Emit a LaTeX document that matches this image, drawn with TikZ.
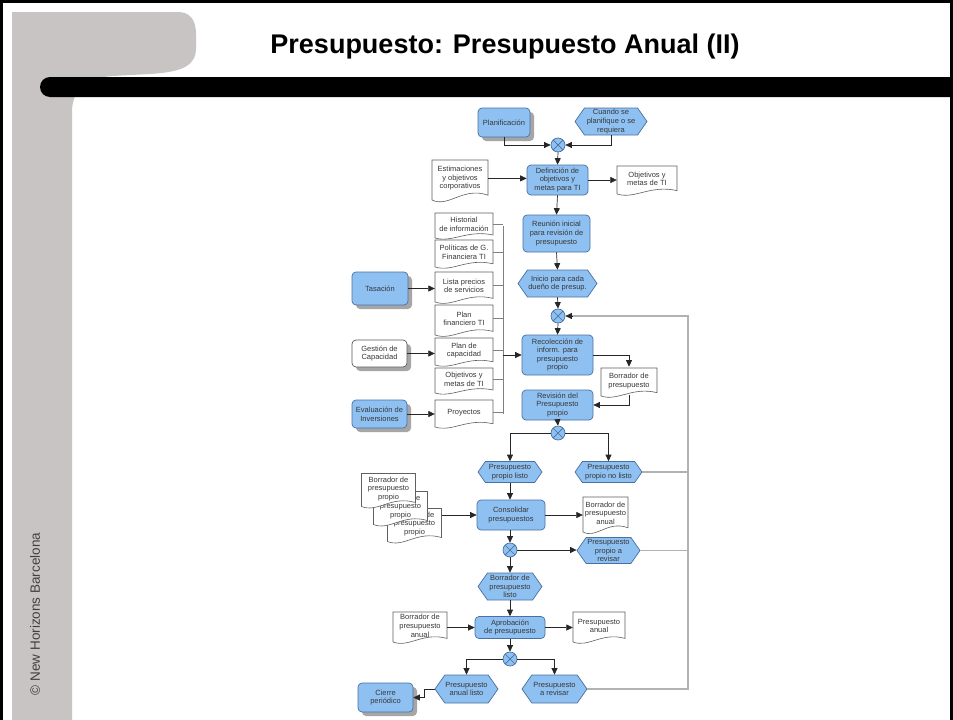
\documentclass[tikz,border=0pt]{standalone}
\usepackage{fontspec}
\setmainfont{Liberation Sans}
\usetikzlibrary{arrows.meta,shapes.symbols,shadows,calc}

\definecolor{slidegrey}{RGB}{200,196,196}
\definecolor{procblue}{RGB}{142,193,242}
\definecolor{procedge}{RGB}{72,112,160}
\definecolor{linegrey}{RGB}{178,178,178}
\definecolor{textgrey}{RGB}{55,55,55}

\tikzset{
  lbl/.style={font=\fontsize{7.5}{8.6}\selectfont, text=textgrey, align=center},
  proc/.style={lbl, rectangle, rounded corners=4pt, draw=procedge, fill=procblue, line width=0.7pt, inner sep=1pt},
  shadowed/.style={drop shadow={shadow xshift=4pt, shadow yshift=-4pt, fill=black!35, opacity=1}},
  ext/.style={proc, shadowed},
  extwhite/.style={ext, fill=white, draw=gray!70!black},
  event/.style={lbl, signal, signal to=east and west, signal pointer angle=110, draw=procedge, fill=procblue, line width=0.7pt, inner sep=0pt},
  xor/.style={circle, draw=procedge, fill=procblue, line width=0.7pt, minimum size=14pt, inner sep=0pt,
    path picture={\draw[procedge, line width=0.7pt]
      (path picture bounding box.north west) -- (path picture bounding box.south east)
      (path picture bounding box.north east) -- (path picture bounding box.south west);}},
  docshape/.style={draw=gray!75!black, fill=white, line width=0.6pt},
  doctext/.style={lbl, inner sep=0pt},
  flow/.style={draw=black!85, line width=0.7pt, -{Triangle[length=6.5pt,width=6pt]}},
  coll/.style={draw=gray, line width=0.8pt},
  backline/.style={draw=linegrey, line width=1.4pt},
}

% document symbol: name, centre x, centre y, width, height, text
\newcommand{\mydoc}[6]{%
  \path[docshape] ({#2-#4/2},{#3-#5/2}) -- ({#2+#4/2},{#3-#5/2})
    -- ({#2+#4/2},{#3+#5/2-0.12*#5})
    .. controls ({#2+0.05*#4},{#3+#5/2-0.34*#5}) and ({#2-0.2*#4},{#3+#5/2+0.2*#5})
    .. ({#2-#4/2},{#3+#5/2}) -- cycle;
  \node[doctext, minimum width=#4pt, minimum height=#5pt] (#1) at (#2,{#3-0.04*#5}) {#6};
}

\begin{document}
\begin{tikzpicture}[x=1pt, y=-1pt]
\useasboundingbox (0,0) rectangle (953,720);
\fill[white] (0,0) rectangle (953,720);

% slide frame and decoration
\fill[slidegrey] (12,12) -- (178,12) .. controls (190,12) and (196,20) .. (196,34)
  -- (196,48) .. controls (196,66) and (182,72) .. (150,74)
  -- (112,76) .. controls (84,78) and (72,92) .. (72,112) -- (72,720) -- (12,720) -- cycle;
\fill[black] (953,97) -- (953,77) [rounded corners=10pt] -- (40,77) -- (40,97) [sharp corners] -- cycle;
\draw[black, line width=3pt] (1.5,720) -- (1.5,1.5) -- (951.5,1.5) -- (951.5,720);
\node[font=\fontsize{27}{30}\selectfont\bfseries] (title) at (505,47) {Presupuesto: Presupuesto Anual (II)};
\node[rotate=90, font=\fontsize{13.5}{16}\selectfont, text=black!75] (copy) at (35,614) {© New Horizons Barcelona};

% top: planning trigger
\node[ext, minimum width=52pt, minimum height=29pt] (plan) at (504,122.5) {Planificación};
\node[event, minimum width=72pt, minimum height=27pt] (cuando) at (611,121.5) {Cuando se\\planifique o se\\requiera};
\node[xor] (x1) at (558,145) {};
\node[proc, minimum width=61pt, minimum height=30pt] (def) at (557.5,180) {Definición de\\objetivos y\\metas para TI};
\mydoc{estim}{460}{180}{56}{40}{Estimaciones\\y objetivos\\corporativos}
\mydoc{objmet1}{647}{180}{60}{28}{Objetivos y\\metas de TI}
\node[proc, minimum width=67pt, minimum height=37pt] (reun) at (556.5,233.5) {Reunión inicial\\para revisión de\\presupuesto};
\node[event, minimum width=79pt, minimum height=27pt] (inicio) at (557.5,283.5) {Inicio para cada\\dueño de presup.};
\node[xor] (x2) at (558,316) {};

% inputs
\mydoc{hist}{464}{225.5}{58}{25}{Historial\\de información}
\mydoc{polit}{464}{253.5}{58}{27}{Políticas de G.\\Financiera TI}
\mydoc{lista}{464}{287}{58}{30}{Lista precios\\de servicios}
\mydoc{planf}{464}{320}{58}{30}{Plan\\financiero TI}
\mydoc{planc}{464}{351.5}{58}{27}{Plan de\\capacidad}
\mydoc{objmet2}{464}{380.5}{58}{25}{Objetivos y\\metas de TI}
\mydoc{proy}{464}{413.5}{58}{27}{Proyectos}
\node[ext, minimum width=56pt, minimum height=33pt] (tas) at (380,288.5) {Tasación};
\node[extwhite, minimum width=55pt, minimum height=27pt] (gest) at (379.5,353.5) {Gestión de\\Capacidad};
\node[ext, minimum width=55pt, minimum height=28pt] (eval) at (379.5,414) {Evaluación de\\Inversiones};

% own budget
\node[proc, minimum width=71pt, minimum height=40pt] (recol) at (557.5,355) {Recolección de\\inform. para\\presupuesto\\propio};
\mydoc{borr}{629}{382}{56}{28}{Borrador de\\presupuesto}
\node[proc, minimum width=71pt, minimum height=30pt] (rev) at (557.5,405) {Revisión del\\Presupuesto\\propio};
\node[xor] (x3) at (558,433) {};
\node[event, minimum width=64pt, minimum height=21pt] (listo) at (510,472) {Presupuesto\\propio listo};
\node[event, minimum width=67pt, minimum height=21pt] (nolisto) at (608.5,472) {Presupuesto\\propio no listo};

% consolidation: stacked drafts, the front one drawn last
\mydoc{stack3}{414.5}{525}{54}{33}{Borrador de\\presupuesto\\propio}
\mydoc{stack2}{400.5}{508}{54}{33}{Borrador de\\presupuesto\\propio}
\mydoc{stack1}{388.5}{490}{54}{33}{Borrador de\\presupuesto\\propio}
\node[proc, minimum width=68pt, minimum height=30pt] (cons) at (511,515) {Consolidar\\presupuestos};
\mydoc{bpa}{605.5}{514.5}{45}{35}{Borrador de\\presupuesto\\anual}
\node[xor] (x4) at (510,550) {};
\node[event, minimum width=63pt, minimum height=26pt] (arev) at (608.5,550.5) {Presupuesto\\propio a\\revisar};
\node[event, minimum width=64pt, minimum height=27pt] (blisto) at (510,586.5) {Borrador de\\presupuesto\\listo};

% approval
\node[proc, minimum width=70pt, minimum height=22pt] (apro) at (510,627.5) {Aprobación\\de presupuesto};
\mydoc{bpa2}{420}{627}{54}{30}{Borrador de\\presupuesto\\anual}
\mydoc{panual}{599}{627}{52}{30}{Presupuesto\\anual}
\node[xor] (x5) at (510,659) {};
\node[event, minimum width=63pt, minimum height=28pt] (alisto) at (466.5,689) {Presupuesto\\anual listo};
\node[event, minimum width=65pt, minimum height=28pt] (arevisar) at (554.5,689) {Presupuesto\\a revisar};
\node[ext, minimum width=55pt, minimum height=29pt] (cierre) at (385.5,697.5) {Cierre\\periódico};

% connectors
\draw[flow] (plan.south) |- (x1.west);
\draw[flow] (cuando.south) |- (x1.east);
\draw[flow] (x1.south) -- (def.north);
\draw[flow] (estim.east) -- (estim.east -| def.west);
\draw[flow] (def.east) -- (def.east -| objmet1.west);
\draw[flow] (def.south) -- (reun.north);
\draw[flow] (reun.south) -- (inicio.north);
\draw[flow] (inicio.south) -- (x2.north);
\draw[flow] (x2.south) -- (recol.north);

\coordinate (colltop) at (503,225.5);
\coordinate (collbot) at (503,413.5);
\foreach \d in {hist,polit,lista,planf,planc,objmet2,proy}
  \draw[coll] (\d.east) -- (\d.east -| colltop);
\draw[coll] (colltop) -- (collbot);
\draw[flow] (recol.west -| colltop) -- (recol.west);
\draw[flow] (tas.east) -- (tas.east -| lista.west);
\draw[flow] (gest.east) -- (gest.east -| planc.west);
\draw[flow] (eval.east) -- (eval.east -| proy.west);

\draw[flow] (recol.east) -| (borr.north);
\draw[flow] (borr.south) |- (rev.east);
\draw[flow] (rev.south) -- (x3.north);
\draw[flow] (x3.west) -| (listo.north);
\draw[flow] (x3.east) -| (nolisto.north);
\draw[flow] (listo.south) -- (listo.south |- cons.north);
\draw[flow] (cons.west -| stack3.east) -- (cons.west);
\draw[flow] (cons.east) -- (cons.east -| bpa.west);
\draw[flow] (x4.north |- cons.south) -- (x4.north);
\draw[flow] (x4.east) -- (x4.east -| arev.west);
\draw[flow] (x4.south) -- (blisto.north);
\draw[flow] (blisto.south) -- (blisto.south |- apro.north);
\draw[flow] (apro.west -| bpa2.east) -- (apro.west);
\draw[flow] (apro.east) -- (apro.east -| panual.west);
\draw[flow] (x5.north |- apro.south) -- (x5.north);
\draw[flow] (x5.west) -| (alisto.north);
\draw[flow] (x5.east) -| (arevisar.north);
\draw[flow] (alisto.west) -- ++(-10,0) |- (cierre.east);

% return path for budgets to be revised
\coordinate (rt) at (688,316);
\draw[backline] (nolisto.east) -- (nolisto.east -| rt);
\draw[backline] (arev.east) -- (arev.east -| rt);
\draw[backline] (arevisar.east) -| (rt) -- ([xshift=7pt]x2.east);
\draw[flow] ([xshift=7pt]x2.east) -- (x2.east);
\end{tikzpicture}
\end{document}
